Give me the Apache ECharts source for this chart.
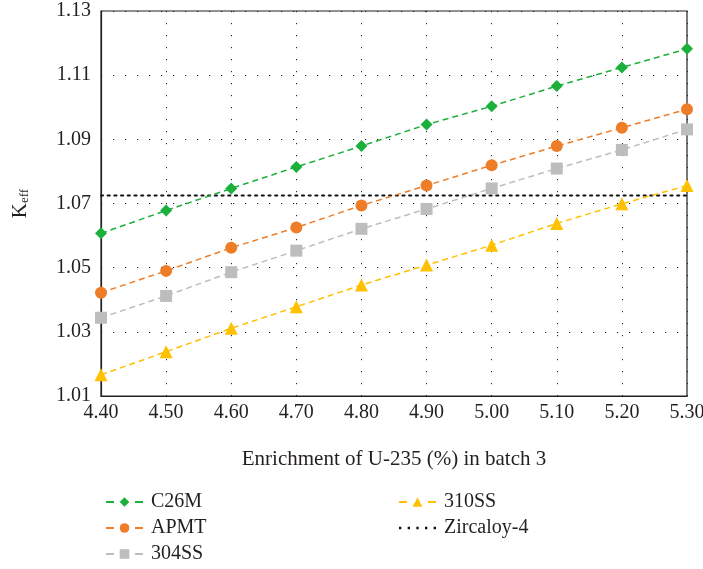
<!DOCTYPE html>
<html>
<head>
<meta charset="utf-8">
<style>
  html, body { margin: 0; padding: 0; background: #fff; }
  #chart { width: 703px; height: 569px; }
</style>
<script src="https://cdn.jsdelivr.net/npm/echarts@6/dist/echarts.min.js"></script>
</head>
<body>
<div id="chart"></div>
<script>
// Enrichment of U-235 (%) in batch 3
const enrichment = ['4.40', '4.50', '4.60', '4.70', '4.80', '4.90', '5.00', '5.10', '5.20', '5.30'];

// K_eff per cladding material
const c26m     = [1.0607, 1.0678, 1.0747, 1.0814, 1.0879, 1.0946, 1.1003, 1.1066, 1.1124, 1.1182];
const apmt     = [1.0422, 1.0490, 1.0562, 1.0625, 1.0694, 1.0756, 1.0819, 1.0879, 1.0936, 1.0994];
const ss304    = [1.0344, 1.0412, 1.0486, 1.0553, 1.0621, 1.0683, 1.0747, 1.0809, 1.0867, 1.0931];
const ss310    = [1.0166, 1.0238, 1.0311, 1.0378, 1.0446, 1.0508, 1.0570, 1.0638, 1.0699, 1.0756];
// Zircaloy-4 reference level
const zircaloyLevel = 1.0725;
const zircaloy = enrichment.map(() => zircaloyLevel);

const FONT = 'Liberation Serif';
const INK = '#231f20';

// five small dots, used as the legend icon of the dotted reference line
const dottedIcon = 'path://M0,0h2.2v2.2h-2.2z M8.2,0h2.2v2.2h-2.2z M16.4,0h2.2v2.2h-2.2z M24.6,0h2.2v2.2h-2.2z M32.8,0h2.2v2.2h-2.2z';

function materialSeries(name, data, color, symbol, size) {
  return {
    name: name,
    type: 'line',
    data: data,
    symbol: symbol,
    symbolSize: size,
    itemStyle: { color: color },
    lineStyle: { color: color, width: 1.5, type: [6, 4] },
    z: 3
  };
}

const legendCommon = {
  orient: 'vertical',
  top: 487,
  height: 90,
  itemWidth: 37, itemHeight: 12, itemGap: 6,
  lineStyle: { type: [8, 21] },
  textStyle: { fontSize: 20, color: INK, fontFamily: FONT, padding: [0, 0, 0, 3] }
};

const chart = echarts.init(document.getElementById('chart'));
chart.setOption({
  animation: false,
  textStyle: { fontFamily: FONT },
  grid: {
    left: 101, right: 16, top: 11, bottom: 173,
    outerBoundsMode: 'none',
    containLabel: false,
    show: true, borderColor: '#222', borderWidth: 1.2
  },
  xAxis: {
    type: 'category',
    data: enrichment,
    boundaryGap: false,
    name: 'Enrichment of U-235 (%) in batch 3',
    nameLocation: 'middle',
    nameGap: 53,
    nameTextStyle: { fontSize: 21, color: INK, fontFamily: FONT },
    axisLine: { lineStyle: { color: '#222', width: 1.2 } },
    axisTick: { show: false },
    axisLabel: { fontSize: 20, color: INK, margin: 7, fontFamily: FONT },
    splitLine: { show: true, lineStyle: { color: '#222', width: 1, type: [1.2, 10.8] } }
  },
  yAxis: {
    type: 'value',
    min: 1.01, max: 1.13, interval: 0.02,
    name: '{k|K}{s|eff}',
    nameLocation: 'middle',
    nameGap: 70,
    nameRotate: 90,
    nameTextStyle: {
      color: INK,
      rich: {
        k: { fontSize: 21, fontFamily: FONT, color: INK, verticalAlign: 'bottom', lineHeight: 24 },
        s: { fontSize: 13, fontFamily: FONT, color: INK, verticalAlign: 'bottom', lineHeight: 18 }
      }
    },
    axisLine: { show: true, lineStyle: { color: '#222', width: 1.2 } },
    axisTick: { show: false },
    axisLabel: { fontSize: 20, color: INK, margin: 10, fontFamily: FONT,
                 formatter: v => v.toFixed(2) },
    splitLine: { show: true, lineStyle: { color: '#222', width: 1, type: [1.2, 10.8] } }
  },
  legend: [
    Object.assign({ data: ['C26M', 'APMT', '304SS'], left: 100 }, legendCommon),
    Object.assign({ data: ['310SS', { name: 'Zircaloy-4', icon: dottedIcon }], left: 393 }, legendCommon)
  ],
  series: [
    materialSeries('C26M', c26m, '#1bb03c', 'diamond', 12),
    materialSeries('APMT', apmt, '#ee7d27', 'circle', 12),
    materialSeries('304SS', ss304, '#bdbdbd', 'rect', 12),
    materialSeries('310SS', ss310, '#ffc000', 'triangle', 13),
    {
      name: 'Zircaloy-4',
      type: 'line',
      data: zircaloy,
      symbol: 'none',
      itemStyle: { color: '#111' },
      lineStyle: { color: '#111', width: 2.2, type: [2, 4.7], cap: 'round' },
      z: 2
    }
  ]
});
</script>
</body>
</html>
